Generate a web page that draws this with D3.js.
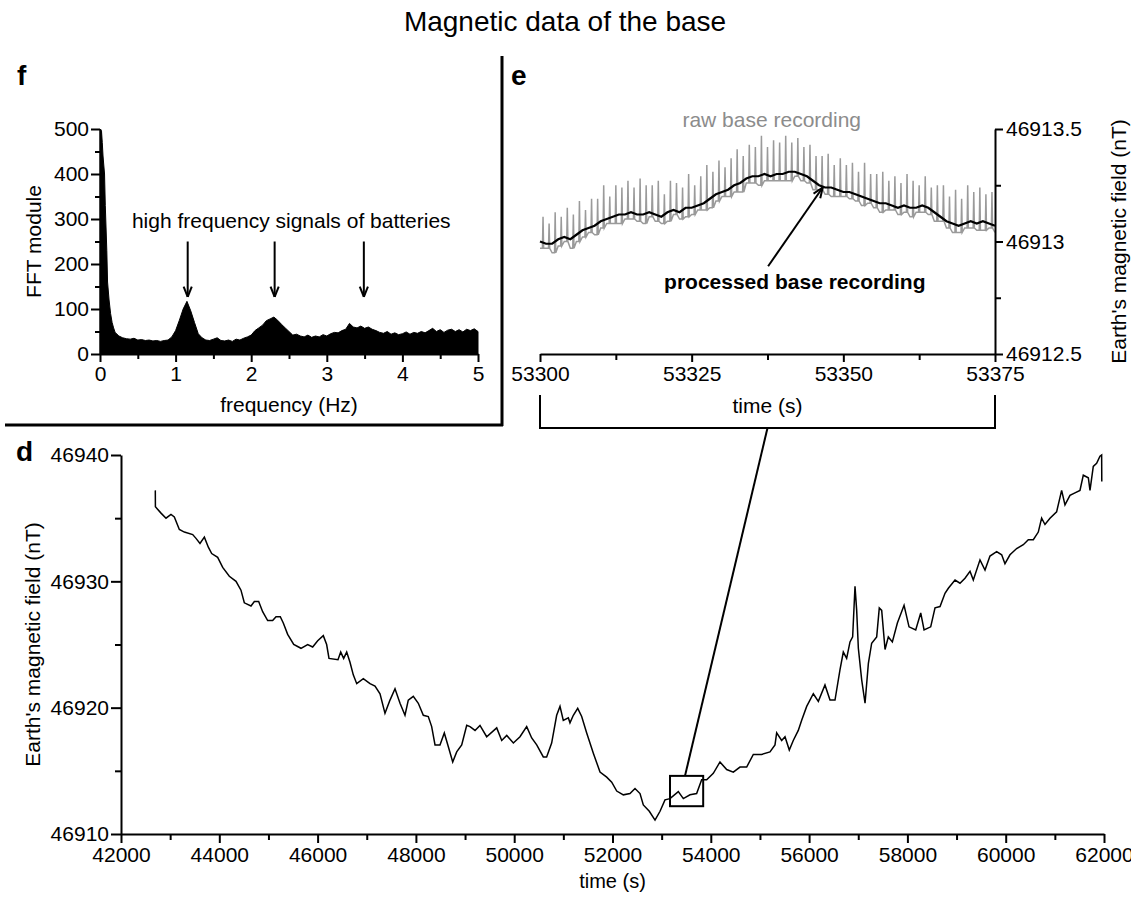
<!DOCTYPE html>
<html><head><meta charset="utf-8">
<script src="https://cdn.jsdelivr.net/npm/d3@7"></script>
<style>body{margin:0;background:#fff}svg{display:block}</style>
</head><body>
<svg id="c" width="1131" height="897"></svg>
<script>
// ---------- DATA ----------
const title = "Magnetic data of the base";

// Panel f : FFT
const fftFreq = [0,0.01,0.02,0.03,0.04,0.05,0.06,0.07,0.08,0.09,0.10,0.12,0.14,0.16,0.18,0.20,0.25,0.30,
 0.35,0.40,0.45,0.50,0.55,0.60,0.65,0.70,0.75,0.80,0.85,0.90,0.95,1.00,1.05,1.10,1.15,1.20,1.25,1.30,1.35,1.40,
 1.45,1.50,1.55,1.60,1.65,1.70,1.75,1.80,1.85,1.90,1.95,2.00,2.05,2.10,2.15,2.20,2.25,2.30,2.35,2.40,
 2.45,2.50,2.55,2.60,2.65,2.70,2.75,2.80,2.85,2.90,2.95,3.00,3.05,3.10,3.15,3.20,3.25,3.30,3.35,3.40,
 3.45,3.50,3.55,3.60,3.65,3.70,3.75,3.80,3.85,3.90,3.95,4.00,4.05,4.10,4.15,4.20,4.25,4.30,4.35,4.40,
 4.45,4.50,4.55,4.60,4.65,4.70,4.75,4.80,4.85,4.90,4.95,5.00];
const fftAmp = [500,498,495,470,440,420,400,330,280,230,160,120,90,70,58,48,40,36,
 34,33,35,31,32,30,31,29,30,28,30,31,38,52,75,100,117,96,70,45,36,31,
 30,33,36,30,29,31,28,33,31,35,38,42,52,58,64,74,78,82,75,66,
 58,50,42,44,40,38,42,37,40,38,43,40,45,48,47,52,55,68,60,58,
 62,57,60,55,52,48,46,50,44,47,43,45,49,44,48,46,50,47,52,57,
 50,54,48,53,55,50,54,49,55,52,56,50];
const fftTicks = [0,1,2,3,4,5];
const fftYTicks = [0,100,200,300,400,500];
const fftNote = "high frequency signals of batteries";
const fftArrowFreq = [1.16, 2.31, 3.49];
const fftArrowFrom = 250, fftArrowTo = 127;   // in FFT-module units
const fftNotePos = [2.53, 280];

// Panel e : zoom on 53300-53375 s
const eTime = [53300,53301,53302,53303,53304,53305,53306,53307,53308,53309,53310,53311,53312,53313,53314,53315,53316,53317,53318,53319,
 53320,53321,53322,53323,53324,53325,53326,53327,53328,53329,53330,53331,53332,53333,53334,53335,53336,53337,53338,53339,
 53340,53341,53342,53343,53344,53345,53346,53347,53348,53349,53350,53351,53352,53353,53354,53355,53356,53357,53358,53359,
 53360,53361,53362,53363,53364,53365,53366,53367,53368,53369,53370,53371,53372,53373,53374,53375];
const processed = [46913.00,46912.99,46912.99,46913.01,46913.02,46913.01,46913.03,46913.05,46913.06,46913.07,
 46913.09,46913.10,46913.11,46913.12,46913.12,46913.13,46913.12,46913.12,46913.13,46913.12,
 46913.11,46913.13,46913.14,46913.13,46913.15,46913.15,46913.16,46913.17,46913.19,46913.21,
 46913.22,46913.23,46913.25,46913.26,46913.28,46913.29,46913.29,46913.30,46913.29,46913.30,
 46913.30,46913.31,46913.31,46913.30,46913.29,46913.27,46913.25,46913.24,46913.24,46913.23,
 46913.22,46913.22,46913.21,46913.20,46913.19,46913.18,46913.17,46913.17,46913.16,46913.15,
 46913.16,46913.15,46913.15,46913.16,46913.15,46913.13,46913.11,46913.09,46913.08,46913.07,
 46913.08,46913.09,46913.08,46913.09,46913.08,46913.07];
// raw recording: battery spike height above and dip below the processed level (nT)
const rawSpike = [0.11,0.09,0.14,0.10,0.13,0.11,0.15,0.09,0.13,0.12,0.16,0.10,0.14,0.12,0.15,
 0.11,0.16,0.13,0.12,0.15,0.10,0.14,0.12,0.11,0.15,0.10,0.13,0.17,0.12,0.15,
 0.11,0.14,0.16,0.12,0.15,0.13,0.18,0.12,0.16,0.14,0.17,0.13,0.15,0.12,0.14,
 0.11,0.13,0.15,0.10,0.14,0.12,0.13,0.10,0.15,0.11,0.12,0.14,0.10,0.13,0.11,
 0.14,0.12,0.10,0.13,0.09,0.12,0.14,0.11,0.15,0.12,0.17,0.13,0.16,0.12,0.14];
const rawDip = [0.03,0.02,0.04,0.03,0.02,0.04,0.03,0.03,0.02,0.04,0.03,0.02,0.03,0.04,0.02,0.03,0.03,0.04,0.02,0.03,
 0.03,0.04,0.02,0.03,0.04,0.03,0.02,0.03,0.04,0.03,0.02,0.03,0.03,0.04,0.02,0.03,0.04,0.03,0.02,0.03,
 0.03,0.04,0.02,0.03,0.03,0.04,0.02,0.03,0.04,0.03,0.02,0.03,0.03,0.04,0.02,0.03,0.04,0.03,0.02,0.03,
 0.03,0.04,0.02,0.03,0.03,0.04,0.02,0.03,0.04,0.03,0.02,0.03,0.03,0.04,0.02,0.03];
const eXTicks = [53300,53325,53350,53375];
const eYTicks = [46912.5,46913,46913.5];
const rawLabel = "raw base recording", rawLabelPos = [53338.2, 46913.51];
const procLabel = "processed base recording", procLabelPos = [53342, 46912.79];
const procArrow = [[53337.6, 46912.89],[53346.6, 46913.24]];

// Panel d : whole day base record
const baseTime = [42698,42700,42814,42916,43017,43085,43187,43289,43459,43526,43607,43696,43777,43845,43967,44069,44204,44340,44441,44509,
 44645,44713,44801,44882,44984,45086,45154,45241,45302,45391,45514,45662,45798,45900,46002,46116,46184,46232,46415,46470,
 46530,46592,46659,46726,46796,46930,47066,47168,47270,47371,47473,47575,47677,47778,47845,47947,48049,48151,48252,48321,
 48389,48490,48578,48660,48749,48830,48932,49034,49101,49203,49304,49440,49644,49746,49848,49983,50118,50254,50356,50458,
 50592,50660,50762,50864,50932,50999,51101,51135,51203,51292,51373,51475,51610,51746,51882,51984,52086,52221,52356,52458,
 52560,52627,52749,52865,52967,53068,53170,53339,53441,53577,53712,53814,53916,54051,54187,54323,54458,54594,54730,54865,
 55035,55204,55306,55340,55442,55510,55597,55678,55780,55849,55951,56086,56188,56323,56425,56527,56628,56696,56764,56832,
 56886,56934,56968,57002,57070,57138,57206,57273,57375,57428,57477,57545,57612,57694,57796,57932,58033,58169,58271,58339,
 58474,58562,58664,58765,58833,58969,59070,59172,59274,59341,59477,59579,59680,59816,59918,59985,60087,60223,60358,60460,
 60562,60663,60731,60799,60901,61036,61138,61206,61308,61409,61511,61579,61681,61715,61782,61850,61918,61952,61955];
const baseField = [46937.2,46935.9,46935.4,46935.0,46935.3,46935.1,46934.1,46933.9,46933.7,46933.4,46933.0,46933.5,46932.7,46932.2,46931.9,46931.1,46930.4,46930.0,46929.3,46928.3,
 46928.05,46928.4,46928.4,46927.6,46926.9,46926.9,46927.2,46927.2,46926.7,46925.8,46925.0,46924.7,46925.0,46924.8,46925.3,46925.7,46925.0,46923.9,46923.8,46924.4,
 46923.9,46924.4,46923.6,46922.6,46921.9,46922.3,46921.9,46921.7,46921.1,46919.55,46920.6,46921.5,46920.35,46919.4,46920.6,46920.9,46920.35,46919.4,46919.3,46918.5,
 46917.05,46917.05,46918.0,46916.9,46915.7,46916.5,46917.05,46918.6,46918.5,46918.2,46918.6,46917.7,46918.4,46917.4,46917.8,46917.2,46917.7,46918.5,46917.6,46917.05,
 46916.1,46916.1,46917.2,46919.4,46920.1,46919.0,46919.2,46918.8,46919.4,46919.95,46919.3,46918.0,46916.4,46914.9,46914.5,46914.1,46913.4,46913.1,46913.2,46913.6,
 46913.2,46912.3,46911.8,46911.1,46911.8,46912.7,46912.8,46913.35,46912.8,46913.1,46913.2,46914.3,46914.3,46914.8,46915.7,46915.1,46914.9,46915.3,46915.3,46916.3,
 46916.3,46916.5,46917.05,46918.0,46917.4,46917.7,46916.65,46917.4,46918.2,46919.0,46920.1,46921.1,46920.5,46921.8,46920.6,46920.6,46923.0,46924.4,46923.9,46925.2,
 46925.6,46929.6,46927.7,46924.7,46922.2,46920.35,46923.5,46925.1,46925.6,46927.9,46927.7,46924.6,46925.6,46925.2,46926.7,46928.1,46926.4,46926.15,46927.5,46926.15,
 46926.4,46927.9,46928.0,46929.05,46929.45,46930.1,46929.85,46930.25,46930.8,46930.1,46931.7,46930.9,46932.0,46932.35,46932.1,46931.4,46932.1,46932.6,46932.9,46933.3,
 46933.3,46933.9,46935.0,46934.5,46935.0,46935.5,46937.2,46936.05,46936.8,46937.0,46937.2,46938.4,46938.2,46937.2,46939.1,46939.35,46939.9,46940.0,46937.9];
const dXTicks = [42000,44000,46000,48000,50000,52000,54000,56000,58000,60000,62000];
const dYTicks = [46910,46920,46930,46940];
const zoomBox = {t0:53170, t1:53845, v0:46912.2, v1:46914.6, tLink:53475};

// ---------- DRAWING ----------
const FONT = "'Liberation Sans', Arial, sans-serif";
const svg = d3.select("#c");
const fx = d3.scaleLinear([0,5],[100,478]), fy = d3.scaleLinear([0,500],[354,129]);
const ex = d3.scaleLinear([53300,53375],[540,995]), ey = d3.scaleLinear([46912.5,46913.5],[354,129]);
const dx = d3.scaleLinear([42000,62000],[121,1104]), dy = d3.scaleLinear([46910,46940],[834,455]);

function styleAxis(g, fs){
  g.attr("font-family", FONT).attr("font-size", fs);
  g.selectAll("path.domain").attr("stroke","#000").attr("stroke-width",2);
  g.selectAll(".tick line").attr("stroke","#000").attr("stroke-width",2);
  g.selectAll(".tick text").attr("fill","#000");
}
function axis(gen, transform, fs){
  const g = svg.append("g").attr("transform", transform).call(gen);
  styleAxis(g, fs);
  return g;
}
function minor(gen, transform){
  const g = svg.append("g").attr("transform", transform).call(gen.tickFormat(""));
  g.select("path.domain").remove();
  g.selectAll(".tick line").attr("stroke","#000").attr("stroke-width",2);
}
function arrowHead(x1,y1,x2,y2,len,ang){
  const a = Math.atan2(y2-y1,x2-x1);
  [ang,-ang].forEach(s=>{
    svg.append("line").attr("x1",x2).attr("y1",y2)
      .attr("x2",x2-len*Math.cos(a+s)).attr("y2",y2-len*Math.sin(a+s))
      .attr("stroke","#000").attr("stroke-width",2);
  });
}
function txt(x,y,s,opt={}){
  const t = svg.append("text").attr("x",x).attr("y",y).text(s)
    .attr("font-family",FONT).attr("font-size",opt.fs||20)
    .attr("text-anchor",opt.anchor||"middle").attr("fill",opt.fill||"#000");
  if(opt.bold) t.attr("font-weight","bold");
  if(opt.rot) t.attr("transform",`rotate(${opt.rot},${x},${y})`);
  return t;
}

// title
txt(565, 31, title, {fs:28});

// frame separating upper panels
svg.append("line").attr("x1",5).attr("x2",503).attr("y1",425).attr("y2",425).attr("stroke","#000").attr("stroke-width",3);
svg.append("line").attr("x1",502).attr("x2",502).attr("y1",56).attr("y2",426).attr("stroke","#000").attr("stroke-width",3);

// ----- panel f -----
const fftData = fftFreq.map((f,i)=>[f,fftAmp[i]]);
svg.append("path").datum(fftData)
  .attr("d", d3.area().x(d=>fx(d[0])).y0(fy(0)).y1(d=>fy(d[1])))
  .attr("fill","#000").attr("stroke","#000").attr("stroke-width",1);
minor(d3.axisLeft(fy).tickValues(d3.range(50,500,100)).tickSize(5).tickSizeOuter(0), "translate(100,0)");
minor(d3.axisBottom(fx).tickValues([0.5,1.5,2.5,3.5,4.5]).tickSize(5).tickSizeOuter(0), "translate(0,354)");
axis(d3.axisLeft(fy).tickValues(fftYTicks).tickSize(9).tickSizeOuter(0).tickPadding(2), "translate(100,0)", 21);
axis(d3.axisBottom(fx).tickValues(fftTicks).tickSize(8).tickSizeOuter(0).tickPadding(4).tickFormat(d3.format("d")), "translate(0,354)", 21);
txt(fx(2.5), 412, "frequency (Hz)", {fs:21});
txt(41, fy(250), "FFT module", {fs:21, rot:-90});
txt(fx(fftNotePos[0]), fy(fftNotePos[1]), fftNote, {fs:21});
fftArrowFreq.forEach(f=>{
  svg.append("line").attr("x1",fx(f)).attr("x2",fx(f)).attr("y1",fy(fftArrowFrom)).attr("y2",fy(fftArrowTo))
    .attr("stroke","#000").attr("stroke-width",2);
  arrowHead(fx(f),fy(fftArrowFrom),fx(f),fy(fftArrowTo),11,0.38);
});
txt(17, 85, "f", {fs:28, bold:true, anchor:"start"});

// ----- panel e -----
const rawPts = [];
eTime.forEach((t,i)=>{
  rawPts.push([t, processed[i]-rawDip[i]]);
  if(i < rawSpike.length){
    rawPts.push([t+0.4, processed[i]-rawDip[i]]);
    rawPts.push([t+0.5, processed[i]+rawSpike[i]]);
    rawPts.push([t+0.6, processed[i]-rawDip[i]]);
  }
});
svg.append("path").datum(rawPts)
  .attr("d", d3.line().x(d=>ex(d[0])).y(d=>ey(d[1])))
  .attr("fill","none").attr("stroke","#9a9a9a").attr("stroke-width",1.5);
svg.append("path").datum(eTime.map((t,i)=>[t,processed[i]]))
  .attr("d", d3.line().x(d=>ex(d[0])).y(d=>ey(d[1])))
  .attr("fill","none").attr("stroke","#000").attr("stroke-width",2.2);
minor(d3.axisRight(ey).tickValues([46912.75,46913.25]).tickSize(6).tickSizeOuter(0), "translate(995,0)");
minor(d3.axisBottom(ex).tickValues([53312.5,53337.5,53362.5]).tickSize(6).tickSizeOuter(0), "translate(0,354)");
axis(d3.axisRight(ey).tickValues(eYTicks).tickSize(8).tickSizeOuter(0).tickPadding(3).tickFormat(d=>String(d)), "translate(995,0)", 21);
axis(d3.axisBottom(ex).tickValues(eXTicks).tickSize(8).tickSizeOuter(0).tickPadding(4).tickFormat(d3.format("d")), "translate(0,354)", 21);
txt(ex(53337.5), 413, "time (s)", {fs:21});
txt(1126, ey(46913), "Earth's magnetic field (nT)", {fs:21, rot:-90});
txt(ex(rawLabelPos[0]), ey(rawLabelPos[1]), rawLabel, {fs:21, fill:"#8c8c8c"});
txt(ex(procLabelPos[0]), ey(procLabelPos[1]), procLabel, {fs:21, bold:true});
svg.append("line").attr("x1",ex(procArrow[0][0])).attr("y1",ey(procArrow[0][1]))
  .attr("x2",ex(procArrow[1][0])).attr("y2",ey(procArrow[1][1])).attr("stroke","#000").attr("stroke-width",2);
arrowHead(ex(procArrow[0][0]),ey(procArrow[0][1]),ex(procArrow[1][0]),ey(procArrow[1][1]),11,0.38);
txt(511, 85, "e", {fs:28, bold:true, anchor:"start"});
// bracket under panel e
svg.append("path").attr("d",`M${ex(53300)},395V428H${ex(53375)}V395`)
  .attr("fill","none").attr("stroke","#000").attr("stroke-width",2);

// ----- panel d -----
svg.append("path").datum(baseTime.map((t,i)=>[t,baseField[i]]))
  .attr("d", d3.line().x(d=>dx(d[0])).y(d=>dy(d[1])))
  .attr("fill","none").attr("stroke","#000").attr("stroke-width",1.5);
minor(d3.axisLeft(dy).tickValues([46915,46925,46935]).tickSize(6).tickSizeOuter(0), "translate(121,0)");
minor(d3.axisBottom(dx).tickValues(d3.range(43000,62000,2000)).tickSize(6).tickSizeOuter(0), "translate(0,834)");
axis(d3.axisLeft(dy).tickValues(dYTicks).tickSize(10).tickSizeOuter(0).tickPadding(2).tickFormat(d3.format("d")), "translate(121,0)", 21);
axis(d3.axisBottom(dx).tickValues(dXTicks).tickSize(9).tickSizeOuter(0).tickPadding(4).tickFormat(d3.format("d")), "translate(0,834)", 21);
txt(dx(52000), 888, "time (s)", {fs:20});
txt(40, dy(46925), "Earth's magnetic field (nT)", {fs:21, rot:-90});
txt(16, 461, "d", {fs:28, bold:true, anchor:"start"});
// zoom box + connector
svg.append("rect").attr("x",dx(zoomBox.t0)).attr("y",dy(zoomBox.v1))
  .attr("width",dx(zoomBox.t1)-dx(zoomBox.t0)).attr("height",dy(zoomBox.v0)-dy(zoomBox.v1))
  .attr("fill","none").attr("stroke","#000").attr("stroke-width",2);
svg.append("line").attr("x1",dx(zoomBox.tLink)).attr("y1",dy(zoomBox.v1))
  .attr("x2",(ex(53300)+ex(53375))/2).attr("y2",428).attr("stroke","#000").attr("stroke-width",2);
</script>
</body></html>
